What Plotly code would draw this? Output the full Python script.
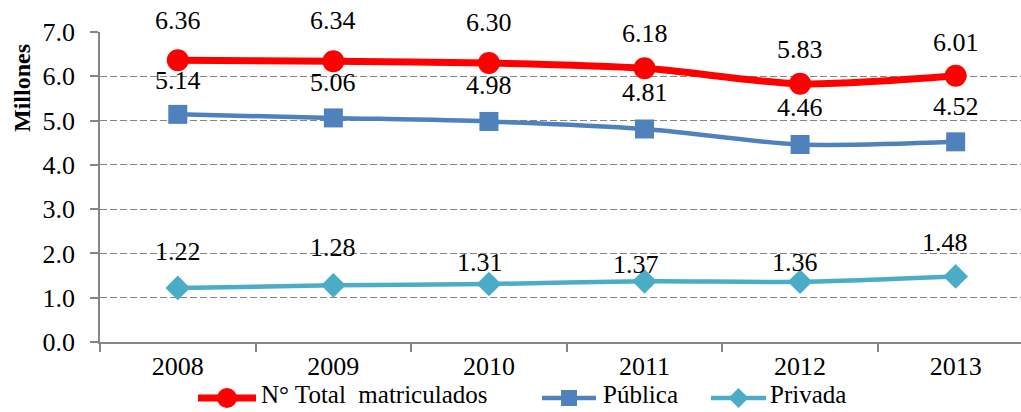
import plotly.graph_objects as go

# Enrolment figures (millions)
years = ["2008", "2009", "2010", "2011", "2012", "2013"]
total = [6.36, 6.34, 6.30, 6.18, 5.83, 6.01]
publica = [5.14, 5.06, 4.98, 4.81, 4.46, 4.52]
privada = [1.22, 1.28, 1.31, 1.37, 1.36, 1.48]
y_ticks = [0, 1, 2, 3, 4, 5, 6, 7]

# Per-label pixel offsets above each point
total_dy = [40, 41, 41, 35, 34, 33]
publica_dy = [34, 35, 36, 36, 37, 35]
privada_dy = [36, 38, 21, 17, 19, 34]
privada_dx = [0, 0, -9, -9, -5, -11]

FONT = "'Liberation Serif', 'Times New Roman', serif"
GRID = "#868686"
W, H = 1021, 412
M_L, M_R, M_T, M_B = 100, 0, 32, 70
PW, PH = W - M_L - M_R, H - M_T - M_B


def px_x(px):
    """Pixel column -> paper x."""
    return (px - M_L) / PW


def px_y(py):
    """Pixel row -> paper y."""
    return (H - M_B - py) / PH


fig = go.Figure()

series = [
    ("N° Total  matriculados", total, "#FF0000", 7, "circle", 22),
    ("Pública", publica, "#4F81BD", 4.5, "square", 19),
    ("Privada", privada, "#4BACC6", 4.5, "diamond", 19),
]
for name, vals, color, lw, sym, ms in series:
    fig.add_trace(go.Scatter(
        x=years, y=vals, name=name, mode="lines+markers",
        line=dict(color=color, width=lw, shape="spline", smoothing=0.8),
        marker=dict(symbol=sym, size=ms, color=color),
        cliponaxis=False, showlegend=False,
    ))

annotations = []
label_sets = [
    (total, total_dy, [0] * 6),
    (publica, publica_dy, [0] * 6),
    (privada, privada_dy, privada_dx),
]
for vals, dys, dxs in label_sets:
    for i, (v, dy, dx) in enumerate(zip(vals, dys, dxs)):
        # category axis: position annotations by category index
        annotations.append(dict(
            x=i, y=v, xref="x", yref="y", text=f"{v:.2f}",
            showarrow=False, yshift=dy, xshift=dx,
            font=dict(family=FONT, size=26, color="#000000"),
        ))

annotations.append(dict(
    text="<b>Millones</b>", textangle=-90, showarrow=False,
    xref="paper", yref="paper", x=px_x(22), y=px_y(88),
    xanchor="center", yanchor="middle",
    font=dict(family=FONT, size=24, color="#000000"),
))

# Legend row below the axis: line sample, marker sample, label
LEG_Y = 398
LEG_TEXT_Y = 394
legend_items = [
    (series[0], 198, 256, 259, 20),
    (series[1], 542, 596, 601, 16),
    (series[2], 711, 766, 768, 20),
]
shapes = []
for (name, _vals, color, lw, sym, _ms), x0, x1, tx, msz in legend_items:
    shapes.append(dict(
        type="line", xref="paper", yref="paper",
        x0=px_x(x0), x1=px_x(x1), y0=px_y(LEG_Y), y1=px_y(LEG_Y),
        line=dict(color=color, width=lw),
    ))
    cx = (x0 + x1) / 2
    r = msz / 2
    if sym == "circle":
        shapes.append(dict(
            type="circle", xref="paper", yref="paper",
            x0=px_x(cx - r), x1=px_x(cx + r), y0=px_y(LEG_Y + r), y1=px_y(LEG_Y - r),
            fillcolor=color, line=dict(width=0),
        ))
    elif sym == "square":
        shapes.append(dict(
            type="rect", xref="paper", yref="paper",
            x0=px_x(cx - r), x1=px_x(cx + r), y0=px_y(LEG_Y + r), y1=px_y(LEG_Y - r),
            fillcolor=color, line=dict(width=0),
        ))
    else:
        path = (f"M {px_x(cx - r)},{px_y(LEG_Y)} L {px_x(cx)},{px_y(LEG_Y - r)} "
                f"L {px_x(cx + r)},{px_y(LEG_Y)} L {px_x(cx)},{px_y(LEG_Y + r)} Z")
        shapes.append(dict(
            type="path", xref="paper", yref="paper", path=path,
            fillcolor=color, line=dict(width=0),
        ))
    annotations.append(dict(
        text=name.replace("  ", "&nbsp; "), showarrow=False,
        xref="paper", yref="paper", x=px_x(tx), y=px_y(LEG_TEXT_Y),
        xanchor="left", yanchor="middle",
        font=dict(family=FONT, size=25, color="#000000"),
    ))

fig.update_layout(
    width=W, height=H,
    margin=dict(l=M_L, r=M_R, t=M_T, b=M_B),
    paper_bgcolor="white", plot_bgcolor="white",
    showlegend=False,
    annotations=annotations,
    shapes=shapes,
    font=dict(family=FONT, size=26, color="#000000"),
)

fig.update_xaxes(
    type="category", range=[-0.5, 5.42], automargin=False,
    showline=True, linecolor=GRID, linewidth=1.5,
    ticks="outside", tickson="boundaries", ticklen=8, tickcolor=GRID, tickwidth=1.5,
    showgrid=False, zeroline=False,
    tickfont=dict(family=FONT, size=26, color="#000000"),
)
fig.update_yaxes(
    range=[0, 7], tickvals=y_ticks, tickformat=".1f", automargin=False,
    showline=True, linecolor=GRID, linewidth=1.5,
    ticks="outside", ticklen=8, tickcolor=GRID, tickwidth=1.5,
    showgrid=True, gridcolor=GRID, gridwidth=1.2, griddash="7px,3px",
    zeroline=False, ticklabelstandoff=10,
    tickfont=dict(family=FONT, size=26, color="#000000"),
)

fig.write_html("out.html")
